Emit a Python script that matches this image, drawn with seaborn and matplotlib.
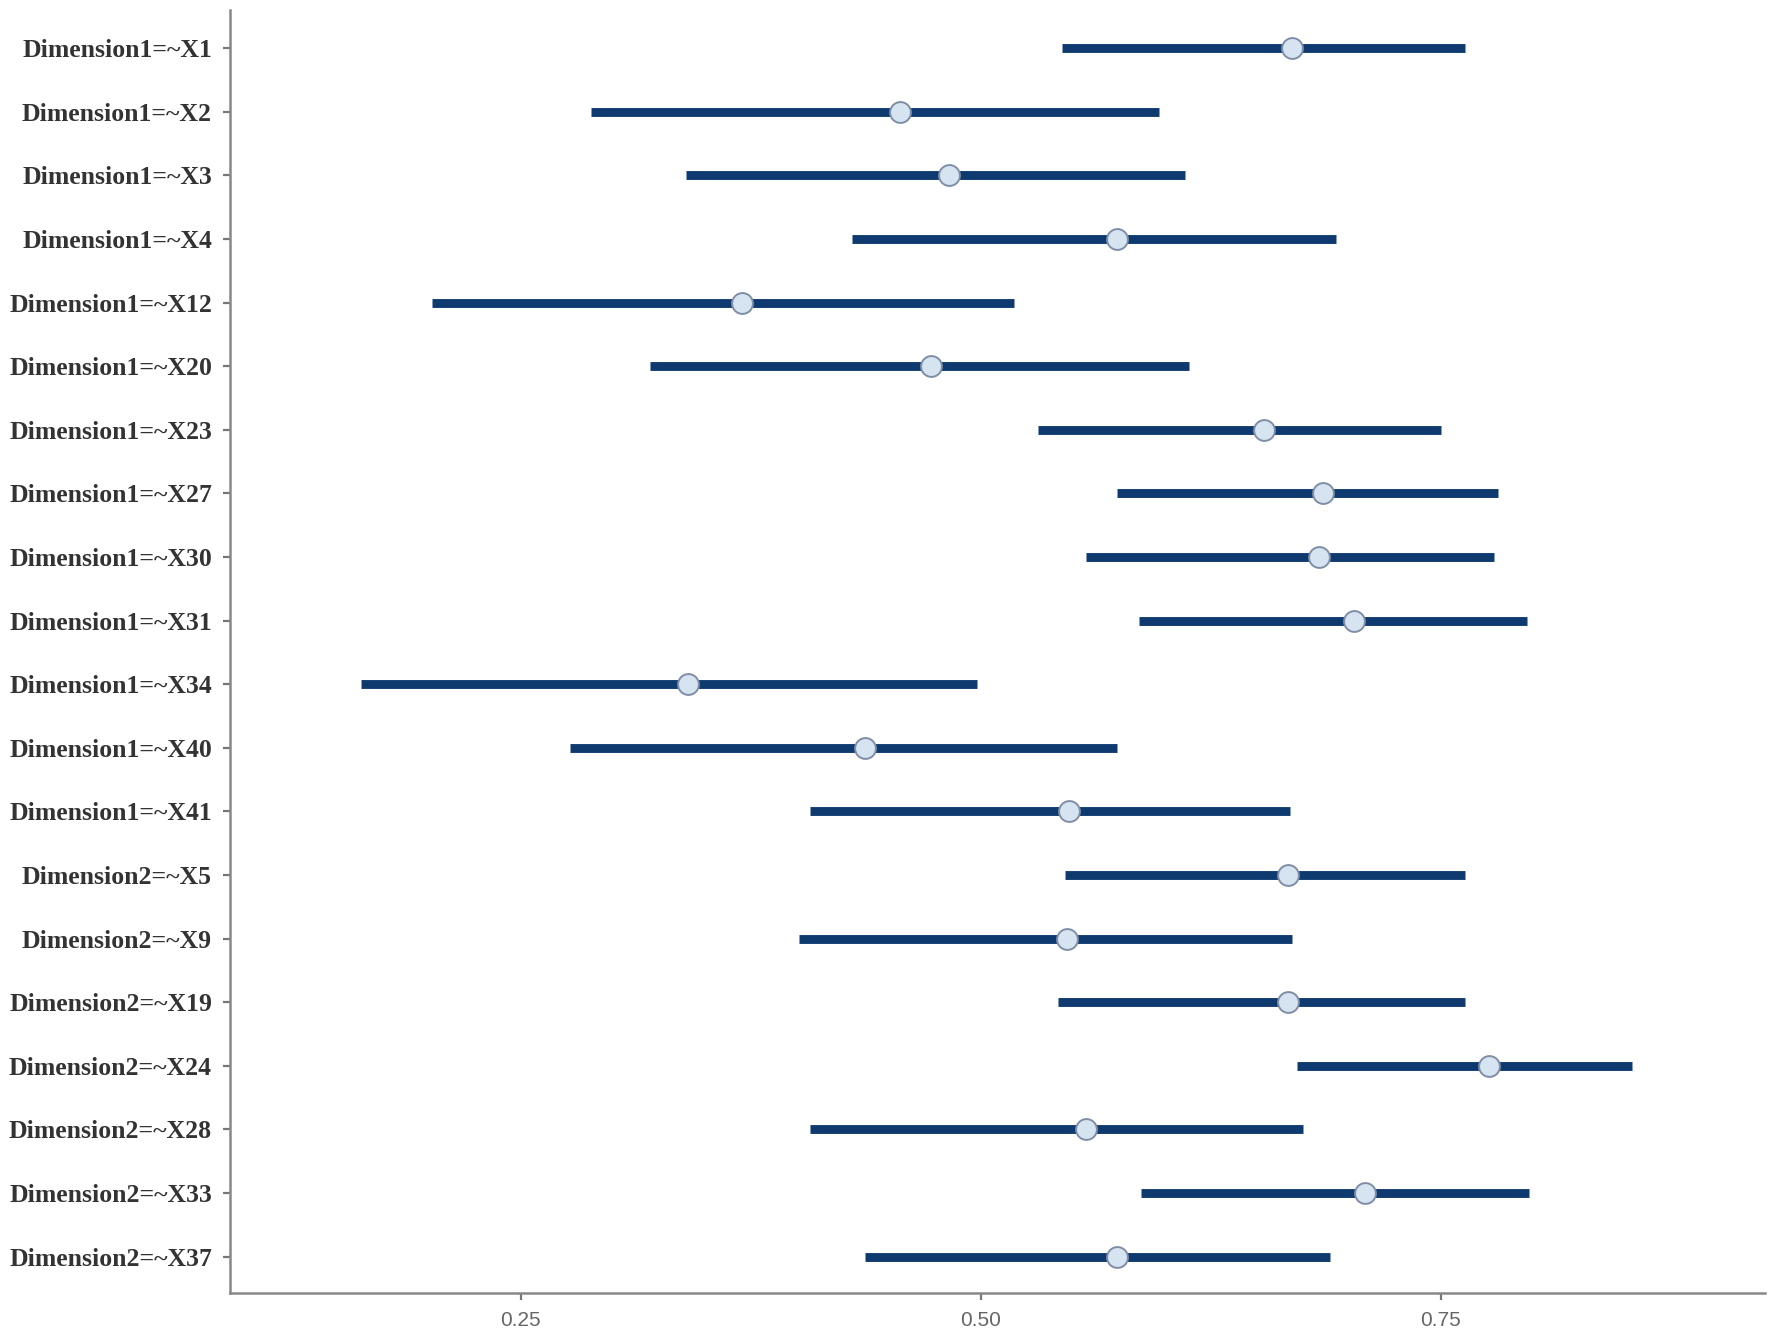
import numpy as np
import pandas as pd
import matplotlib
matplotlib.use("Agg")
import matplotlib.pyplot as plt
import seaborn as sns

# Factor loadings with confidence intervals
labels = ["Dimension1=~X1", "Dimension1=~X2", "Dimension1=~X3", "Dimension1=~X4",
          "Dimension1=~X12", "Dimension1=~X20", "Dimension1=~X23", "Dimension1=~X27",
          "Dimension1=~X30", "Dimension1=~X31", "Dimension1=~X34", "Dimension1=~X40",
          "Dimension1=~X41", "Dimension2=~X5", "Dimension2=~X9", "Dimension2=~X19",
          "Dimension2=~X24", "Dimension2=~X28", "Dimension2=~X33", "Dimension2=~X37"]
lower = [0.544, 0.288, 0.340, 0.430, 0.202, 0.320, 0.531, 0.574, 0.557, 0.586,
         0.163, 0.277, 0.407, 0.546, 0.401, 0.542, 0.672, 0.407, 0.587, 0.437]
estimate = [0.669, 0.456, 0.483, 0.574, 0.370, 0.473, 0.654, 0.686, 0.684, 0.703,
            0.341, 0.437, 0.548, 0.667, 0.547, 0.667, 0.776, 0.557, 0.709, 0.574]
upper = [0.763, 0.597, 0.611, 0.693, 0.518, 0.613, 0.750, 0.781, 0.779, 0.797,
         0.498, 0.574, 0.668, 0.763, 0.669, 0.763, 0.854, 0.675, 0.798, 0.690]
xticks = [0.25, 0.50, 0.75]

# long form: lower / estimate / upper per path
df = pd.DataFrame({
    "path": labels * 3,
    "value": lower + estimate + upper,
})
est_df = pd.DataFrame({"path": labels, "value": estimate})

sns.set_style("white")
fig = plt.figure(figsize=(17.72, 13.44), dpi=100)
ax = fig.add_axes([0.1298, 0.038, 0.866, 0.9545])

line_col = "#0e3a70"

# interval bars: min-max of the three values
sns.pointplot(data=df, x="value", y="path", order=labels, estimator="median",
              errorbar=("pi", 100), markers="", linestyle="none",
              color=line_col, capsize=0,
              err_kws={"linewidth": 6.4, "solid_capstyle": "butt"},
              ax=ax)

# point estimates
sns.pointplot(data=est_df, x="value", y="path", order=labels, errorbar=None,
              markers="o", linestyle="none", color=line_col,
              markersize=15, markerfacecolor="#d6e3f0", markeredgecolor="#7f8ea6",
              markeredgewidth=1.4, ax=ax, zorder=5)

ax.set_xlim(0.092, 0.926)
ax.set_ylim(len(labels) - 0.43, -0.6)
ax.set_xticks(xticks)
ax.set_xticklabels([f"{t:.2f}" for t in xticks], fontsize=15, color="#666666",
                   family="Liberation Sans")
ax.set_yticklabels(labels, fontsize=18.5, fontweight="bold", color="#333333",
                   family="Liberation Serif")
ax.set_xlabel("")
ax.set_ylabel("")
ax.tick_params(axis="both", bottom=True, left=True, length=5, width=1.6,
               color="#777777", pad=8)
ax.tick_params(axis="y", pad=8)

for side in ["top", "right"]:
    ax.spines[side].set_visible(False)
for side in ["left", "bottom"]:
    ax.spines[side].set_color("#888888")
    ax.spines[side].set_linewidth(1.8)

fig.savefig("out.png", dpi=100, facecolor="white")
